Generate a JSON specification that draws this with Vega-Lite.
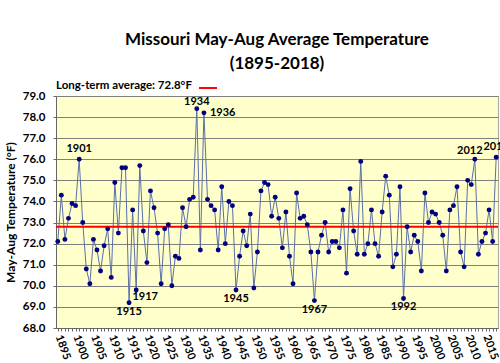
{
  "$schema": "https://vega.github.io/schema/vega-lite/v6.json",
  "width": 442,
  "height": 232,
  "autosize": "none",
  "padding": {"left": 56, "top": 96, "right": 2, "bottom": 35},
  "background": "white",
  "title": {
    "text": ["Missouri May-Aug Average Temperature", "(1895-2018)"],
    "font": "Lato",
    "fontSize": 17,
    "fontWeight": "bold",
    "color": "#000000",
    "lineHeight": 24,
    "anchor": "middle",
    "offset": 5
  },
  "config": {
    "font": "Lato",
    "view": {"fill": "#FFFFCC", "stroke": "#a6a6a6"}
  },
  "data": {
    "values": [
      {"year": 1895, "temp": 72.1}, {"year": 1896, "temp": 74.3}, {"year": 1897, "temp": 72.2}, {"year": 1898, "temp": 73.2}, {"year": 1899, "temp": 73.9},
      {"year": 1900, "temp": 73.8}, {"year": 1901, "temp": 76.0}, {"year": 1902, "temp": 73.0}, {"year": 1903, "temp": 70.8}, {"year": 1904, "temp": 70.1},
      {"year": 1905, "temp": 72.2}, {"year": 1906, "temp": 71.7}, {"year": 1907, "temp": 70.7}, {"year": 1908, "temp": 71.9}, {"year": 1909, "temp": 72.7},
      {"year": 1910, "temp": 70.4}, {"year": 1911, "temp": 74.9}, {"year": 1912, "temp": 72.5}, {"year": 1913, "temp": 75.6}, {"year": 1914, "temp": 75.6},
      {"year": 1915, "temp": 69.2}, {"year": 1916, "temp": 73.6}, {"year": 1917, "temp": 69.8}, {"year": 1918, "temp": 75.7}, {"year": 1919, "temp": 72.6},
      {"year": 1920, "temp": 71.1}, {"year": 1921, "temp": 74.5}, {"year": 1922, "temp": 73.7}, {"year": 1923, "temp": 72.5}, {"year": 1924, "temp": 70.1},
      {"year": 1925, "temp": 72.7}, {"year": 1926, "temp": 72.9}, {"year": 1927, "temp": 70.0}, {"year": 1928, "temp": 71.4}, {"year": 1929, "temp": 71.3},
      {"year": 1930, "temp": 73.7}, {"year": 1931, "temp": 72.8}, {"year": 1932, "temp": 74.1}, {"year": 1933, "temp": 74.2}, {"year": 1934, "temp": 78.4},
      {"year": 1935, "temp": 71.7}, {"year": 1936, "temp": 78.2}, {"year": 1937, "temp": 74.1}, {"year": 1938, "temp": 73.8}, {"year": 1939, "temp": 73.6},
      {"year": 1940, "temp": 71.7}, {"year": 1941, "temp": 74.7}, {"year": 1942, "temp": 72.0}, {"year": 1943, "temp": 74.0}, {"year": 1944, "temp": 73.8},
      {"year": 1945, "temp": 69.8}, {"year": 1946, "temp": 71.4}, {"year": 1947, "temp": 72.6}, {"year": 1948, "temp": 71.9}, {"year": 1949, "temp": 73.4},
      {"year": 1950, "temp": 69.9}, {"year": 1951, "temp": 71.6}, {"year": 1952, "temp": 74.5}, {"year": 1953, "temp": 74.9}, {"year": 1954, "temp": 74.8},
      {"year": 1955, "temp": 73.3}, {"year": 1956, "temp": 74.2}, {"year": 1957, "temp": 73.2}, {"year": 1958, "temp": 71.8}, {"year": 1959, "temp": 73.5},
      {"year": 1960, "temp": 71.4}, {"year": 1961, "temp": 70.1}, {"year": 1962, "temp": 74.4}, {"year": 1963, "temp": 73.2}, {"year": 1964, "temp": 73.3},
      {"year": 1965, "temp": 72.9}, {"year": 1966, "temp": 71.6}, {"year": 1967, "temp": 69.3}, {"year": 1968, "temp": 71.6}, {"year": 1969, "temp": 72.4},
      {"year": 1970, "temp": 73.0}, {"year": 1971, "temp": 71.6}, {"year": 1972, "temp": 72.1}, {"year": 1973, "temp": 72.1}, {"year": 1974, "temp": 71.8},
      {"year": 1975, "temp": 73.6}, {"year": 1976, "temp": 70.6}, {"year": 1977, "temp": 74.6}, {"year": 1978, "temp": 72.6}, {"year": 1979, "temp": 71.5},
      {"year": 1980, "temp": 75.9}, {"year": 1981, "temp": 71.5}, {"year": 1982, "temp": 72.0}, {"year": 1983, "temp": 73.6}, {"year": 1984, "temp": 72.0},
      {"year": 1985, "temp": 71.4}, {"year": 1986, "temp": 73.5}, {"year": 1987, "temp": 75.2}, {"year": 1988, "temp": 74.3}, {"year": 1989, "temp": 70.9},
      {"year": 1990, "temp": 71.5}, {"year": 1991, "temp": 74.7}, {"year": 1992, "temp": 69.4}, {"year": 1993, "temp": 72.8}, {"year": 1994, "temp": 71.6},
      {"year": 1995, "temp": 72.4}, {"year": 1996, "temp": 72.1}, {"year": 1997, "temp": 70.7}, {"year": 1998, "temp": 74.4}, {"year": 1999, "temp": 73.0},
      {"year": 2000, "temp": 73.5}, {"year": 2001, "temp": 73.4}, {"year": 2002, "temp": 73.0}, {"year": 2003, "temp": 72.4}, {"year": 2004, "temp": 70.7},
      {"year": 2005, "temp": 73.6}, {"year": 2006, "temp": 73.8}, {"year": 2007, "temp": 74.7}, {"year": 2008, "temp": 71.6}, {"year": 2009, "temp": 70.9},
      {"year": 2010, "temp": 75.0}, {"year": 2011, "temp": 74.8}, {"year": 2012, "temp": 76.0}, {"year": 2013, "temp": 71.5}, {"year": 2014, "temp": 72.1},
      {"year": 2015, "temp": 72.5}, {"year": 2016, "temp": 73.6}, {"year": 2017, "temp": 72.1}, {"year": 2018, "temp": 76.1}
    ]
  },
  "encoding": {
    "x": {
      "field": "year",
      "type": "quantitative",
      "scale": {"domain": [1894.5, 2018.5], "nice": false, "zero": false},
      "axis": {
        "title": null,
        "grid": false,
        "values": [1895,1896,1897,1898,1899,1900,1901,1902,1903,1904,1905,1906,1907,1908,1909,1910,1911,1912,1913,1914,1915,1916,1917,1918,1919,1920,1921,1922,1923,1924,1925,1926,1927,1928,1929,1930,1931,1932,1933,1934,1935,1936,1937,1938,1939,1940,1941,1942,1943,1944,1945,1946,1947,1948,1949,1950,1951,1952,1953,1954,1955,1956,1957,1958,1959,1960,1961,1962,1963,1964,1965,1966,1967,1968,1969,1970,1971,1972,1973,1974,1975,1976,1977,1978,1979,1980,1981,1982,1983,1984,1985,1986,1987,1988,1989,1990,1991,1992,1993,1994,1995,1996,1997,1998,1999,2000,2001,2002,2003,2004,2005,2006,2007,2008,2009,2010,2011,2012,2013,2014,2015,2016,2017,2018],
        "format": "d",
        "labelExpr": "datum.value % 5 == 0 ? datum.label : ''",
        "labelOverlap": false,
        "labelAngle": 70,
        "labelAlign": "left",
        "labelBaseline": "middle",
        "labelPadding": 4,
        "labelFontSize": 11,
        "labelFontWeight": "bold",
        "labelColor": "#000000",
        "tickSize": 3,
        "tickColor": "#666666",
        "domainColor": "#666666"
      }
    },
    "y": {
      "field": "temp",
      "type": "quantitative",
      "scale": {"domain": [68, 79], "nice": false, "zero": false},
      "axis": {
        "title": "May-Aug Temperature (°F)",
        "values": [68, 69, 70, 71, 72, 73, 74, 75, 76, 77, 78, 79],
        "format": ".1f",
        "grid": true,
        "gridColor": "#7f7f7f",
        "gridWidth": 1,
        "tickSize": 3,
        "tickColor": "#666666",
        "domainColor": "#666666",
        "labelPadding": 8,
        "labelFontSize": 11.5,
        "labelFontWeight": "bold",
        "labelColor": "#000000",
        "titleFontSize": 12,
        "titleFontWeight": "bold",
        "titleColor": "#000000",
        "titlePadding": 5
      }
    }
  },
  "layer": [
    {
      "mark": {"type": "line", "color": "#5b6fa8", "strokeWidth": 1}
    },
    {
      "data": {"values": [{"avg": 72.8, "series": "Long-term average"}]},
      "mark": {"type": "rule", "strokeWidth": 2},
      "encoding": {
        "x": null,
        "y": {"field": "avg", "type": "quantitative"},
        "stroke": {
          "field": "series",
          "type": "nominal",
          "scale": {"range": ["#ff0000"]},
          "legend": {
            "title": "Long-term average: 72.8°F",
            "orient": "top",
            "direction": "horizontal",
            "titleOrient": "left",
            "titleFontSize": 11.5,
            "titleFontWeight": "bold",
            "titleColor": "#000000",
            "titlePadding": 6,
            "labelExpr": "''",
            "symbolType": "stroke",
            "symbolStrokeWidth": 2,
            "symbolSize": 324,
            "offset": 3,
            "padding": 0
          }
        }
      }
    },
    {
      "mark": {"type": "point", "filled": true, "shape": "circle", "size": 24, "color": "#000080", "opacity": 1}
    },
    {
      "transform": [{"filter": {"field": "year", "oneOf": [1901, 2018]}}],
      "mark": {"type": "text", "fontSize": 11, "fontWeight": "bold", "color": "#000000", "baseline": "middle", "dy": -10},
      "encoding": {"text": {"field": "year", "type": "nominal"}}
    },
    {
      "transform": [{"filter": {"field": "year", "oneOf": [2012]}}],
      "mark": {"type": "text", "fontSize": 11, "fontWeight": "bold", "color": "#000000", "baseline": "middle", "dx": -5, "dy": -8},
      "encoding": {"text": {"field": "year", "type": "nominal"}}
    },
    {
      "transform": [{"filter": {"field": "year", "oneOf": [1934]}}],
      "mark": {"type": "text", "fontSize": 11, "fontWeight": "bold", "color": "#000000", "baseline": "middle", "dy": -7},
      "encoding": {"text": {"field": "year", "type": "nominal"}}
    },
    {
      "transform": [{"filter": {"field": "year", "oneOf": [1915, 1945, 1967, 1992]}}],
      "mark": {"type": "text", "fontSize": 11, "fontWeight": "bold", "color": "#000000", "baseline": "middle", "dy": 9},
      "encoding": {"text": {"field": "year", "type": "nominal"}}
    },
    {
      "transform": [{"filter": {"field": "year", "oneOf": [1917]}}],
      "mark": {"type": "text", "fontSize": 11, "fontWeight": "bold", "color": "#000000", "baseline": "middle", "dx": 9, "dy": 7},
      "encoding": {"text": {"field": "year", "type": "nominal"}}
    },
    {
      "transform": [{"filter": {"field": "year", "oneOf": [1936]}}],
      "mark": {"type": "text", "fontSize": 11, "fontWeight": "bold", "color": "#000000", "baseline": "middle", "align": "left", "dx": 6},
      "encoding": {"text": {"field": "year", "type": "nominal"}}
    }
  ]
}
